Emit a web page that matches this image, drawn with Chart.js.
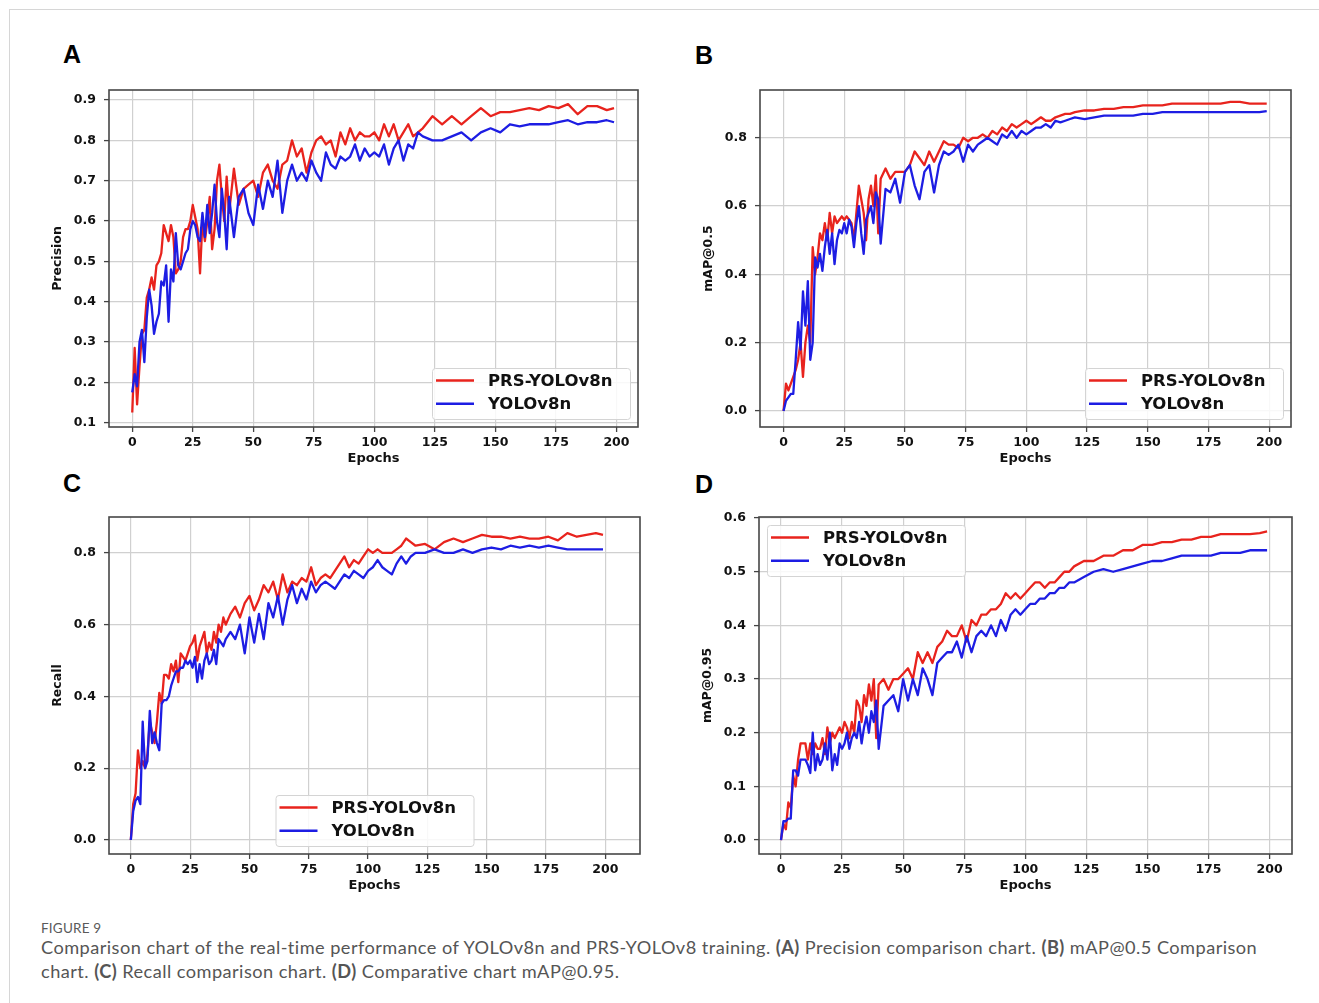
<!DOCTYPE html>
<html>
<head>
<meta charset="utf-8">
<script src="https://cdn.jsdelivr.net/npm/chart.js@4.4.1/dist/chart.umd.min.js"></script>
<style>
    body { margin: 0; background: #fff; width: 1319px; height: 1003px; position: relative; overflow: hidden; }
    .frame { position: absolute; left: 9px; top: 9px; width: 1320px; height: 1000px; border-left: 1px solid #d6d6d6; border-top: 1px solid #d6d6d6; }
    canvas { position: absolute; }
    .tag { position: absolute; font-family: "Liberation Sans", Arial, sans-serif; font-weight: bold; font-size: 25px; line-height: 1; color: #000; }
    .fig { position: absolute; left: 41px; top: 918px; font-family: Lato, "Open Sans", sans-serif; font-size: 13.5px; line-height: 20px; color: #5a5a5a; letter-spacing: 0.2px; }
    .caption { position: absolute; left: 41px; top: 935px; font-family: Lato, "Open Sans", sans-serif; font-size: 18.2px; letter-spacing: 0.45px; line-height: 24px; color: #555; white-space: nowrap; }
    .caption b { font-weight: bold; color: #555; }
</style>
</head>
<body>
<div class="frame"></div>
<div class="tag" style="left:63px;top:42px">A</div>
<div class="tag" style="left:695px;top:43px">B</div>
<div class="tag" style="left:63px;top:471px">C</div>
<div class="tag" style="left:695px;top:472px">D</div>
<canvas id="panelA"></canvas>
<canvas id="panelB"></canvas>
<canvas id="panelC"></canvas>
<canvas id="panelD"></canvas>
<div class="fig">FIGURE 9</div>
<div class="caption">Comparison chart of the real-time performance of YOLOv8n and PRS-YOLOv8 training. <b>(A)</b> Precision comparison chart. <b>(B)</b> mAP@0.5 Comparison<br>chart. <b>(C)</b> Recall comparison chart. <b>(D)</b> Comparative chart mAP@0.95.</div>

<script>
const epochs = [0, 1, 2, 3, 4, 5, 6, 7, 8, 9, 10, 11, 12, 13, 14, 15, 16, 17, 18, 19,
    20, 21, 22, 23, 24, 25, 26, 27, 28, 29, 30, 31, 32, 33, 34, 35, 36, 37, 38, 39, 40,
    42, 44, 46, 48, 50, 52, 54, 56, 58, 60, 62, 64, 66, 68, 70, 72, 74, 76, 78, 80,
    82, 84, 86, 88, 90, 92, 94, 96, 98, 100, 102, 104, 106, 108, 110, 112, 114, 116, 118, 120,
    124, 128, 132, 136, 140, 144, 148, 152, 156, 160, 164, 168, 172, 176, 180, 184, 188, 192, 196, 199];

const xTicks = [0, 25, 50, 75, 100, 125, 150, 175, 200];
const seriesNames = ["PRS-YOLOv8n", "YOLOv8n"];

// (A) precision
const precisionTicks = [0.1, 0.2, 0.3, 0.4, 0.5, 0.6, 0.7, 0.8, 0.9];
const precisionPrs = [0.125, 0.285, 0.145, 0.24, 0.32, 0.33, 0.41, 0.43, 0.46, 0.43,
    0.49, 0.50, 0.52, 0.59, 0.57, 0.55, 0.59, 0.56, 0.47, 0.48,
    0.50, 0.56, 0.58, 0.58, 0.60, 0.64, 0.61, 0.58, 0.47, 0.60,
    0.55, 0.60, 0.66, 0.53, 0.58, 0.70, 0.74, 0.66, 0.60, 0.71, 0.62,
    0.73, 0.64, 0.68, 0.69, 0.70, 0.66, 0.72, 0.74, 0.70, 0.68,
    0.74, 0.75, 0.80, 0.76, 0.78, 0.72, 0.77, 0.80, 0.81, 0.79,
    0.80, 0.76, 0.82, 0.79, 0.83, 0.80, 0.82, 0.81, 0.81, 0.82,
    0.80, 0.84, 0.81, 0.84, 0.80, 0.82, 0.84, 0.81, 0.82, 0.83,
    0.86, 0.84, 0.86, 0.84, 0.86, 0.88, 0.86, 0.87, 0.87, 0.875,
    0.88, 0.875, 0.885, 0.88, 0.89, 0.865, 0.885, 0.885, 0.875, 0.88];
const precisionYolo = [0.175, 0.22, 0.19, 0.30, 0.33, 0.25, 0.36, 0.43, 0.39, 0.32,
    0.35, 0.37, 0.45, 0.44, 0.49, 0.35, 0.48, 0.45, 0.57, 0.49,
    0.48, 0.50, 0.52, 0.53, 0.58, 0.60, 0.59, 0.56, 0.55, 0.62,
    0.56, 0.64, 0.57, 0.62, 0.69, 0.60, 0.56, 0.68, 0.62, 0.53, 0.66,
    0.56, 0.66, 0.68, 0.62, 0.59, 0.69, 0.63, 0.70, 0.66, 0.75,
    0.62, 0.70, 0.74, 0.70, 0.72, 0.70, 0.75, 0.72, 0.70, 0.77,
    0.74, 0.73, 0.76, 0.75, 0.76, 0.79, 0.75, 0.78, 0.76, 0.77,
    0.76, 0.79, 0.74, 0.78, 0.80, 0.75, 0.79, 0.78, 0.82, 0.81,
    0.80, 0.80, 0.81, 0.82, 0.80, 0.82, 0.83, 0.82, 0.84, 0.835,
    0.84, 0.84, 0.84, 0.845, 0.85, 0.84, 0.845, 0.845, 0.85, 0.845];

// (B) mAP@0.5
const map50Ticks = [0, 0.2, 0.4, 0.6, 0.8];
const map50Prs = [0.0, 0.08, 0.06, 0.08, 0.10, 0.12, 0.15, 0.20, 0.10, 0.20,
    0.25, 0.20, 0.48, 0.40, 0.45, 0.52, 0.50, 0.55, 0.50, 0.58,
    0.52, 0.57, 0.55, 0.56, 0.57, 0.56, 0.57, 0.56, 0.55, 0.50,
    0.58, 0.66, 0.62, 0.58, 0.50, 0.62, 0.66, 0.60, 0.69, 0.52, 0.68,
    0.71, 0.68, 0.70, 0.70, 0.70, 0.72, 0.76, 0.74, 0.72, 0.76,
    0.73, 0.76, 0.79, 0.78, 0.78, 0.77, 0.80, 0.79, 0.80, 0.80,
    0.81, 0.80, 0.82, 0.81, 0.83, 0.82, 0.84, 0.83, 0.84, 0.85,
    0.84, 0.85, 0.86, 0.85, 0.85, 0.86, 0.865, 0.87, 0.87, 0.875,
    0.88, 0.88, 0.885, 0.885, 0.89, 0.89, 0.895, 0.895, 0.895, 0.90,
    0.90, 0.90, 0.90, 0.90, 0.90, 0.905, 0.905, 0.90, 0.90, 0.90];
const map50Yolo = [0.0, 0.03, 0.04, 0.05, 0.05, 0.15, 0.26, 0.18, 0.35, 0.25,
    0.38, 0.15, 0.20, 0.45, 0.42, 0.46, 0.41, 0.48, 0.53, 0.46,
    0.52, 0.43, 0.50, 0.53, 0.52, 0.55, 0.52, 0.56, 0.54, 0.48,
    0.55, 0.60, 0.52, 0.46, 0.56, 0.58, 0.60, 0.55, 0.64, 0.62, 0.49,
    0.65, 0.64, 0.68, 0.61, 0.70, 0.72, 0.66, 0.62, 0.70, 0.72,
    0.64, 0.72, 0.76, 0.75, 0.76, 0.78, 0.73, 0.78, 0.76, 0.78,
    0.79, 0.80, 0.79, 0.78, 0.81, 0.80, 0.82, 0.80, 0.82, 0.81,
    0.82, 0.83, 0.83, 0.84, 0.83, 0.85, 0.845, 0.85, 0.855, 0.86,
    0.855, 0.86, 0.865, 0.865, 0.865, 0.865, 0.87, 0.87, 0.875, 0.875,
    0.875, 0.875, 0.875, 0.875, 0.875, 0.875, 0.875, 0.875, 0.875, 0.878];

// (C) recall
const recallTicks = [0, 0.2, 0.4, 0.6, 0.8];
const recallPrs = [0.0, 0.10, 0.13, 0.25, 0.20, 0.22, 0.20, 0.24, 0.33, 0.30,
    0.27, 0.33, 0.41, 0.38, 0.46, 0.46, 0.45, 0.49, 0.47, 0.50,
    0.44, 0.52, 0.51, 0.50, 0.52, 0.54, 0.55, 0.57, 0.50, 0.54,
    0.56, 0.58, 0.52, 0.55, 0.53, 0.58, 0.55, 0.60, 0.58, 0.62, 0.60,
    0.63, 0.65, 0.62, 0.66, 0.68, 0.64, 0.67, 0.71, 0.69, 0.72,
    0.67, 0.74, 0.69, 0.72, 0.71, 0.73, 0.72, 0.76, 0.71, 0.73,
    0.74, 0.73, 0.75, 0.77, 0.79, 0.76, 0.78, 0.77, 0.79, 0.81,
    0.80, 0.81, 0.80, 0.80, 0.80, 0.81, 0.82, 0.84, 0.83, 0.82,
    0.825, 0.81, 0.83, 0.84, 0.83, 0.84, 0.85, 0.845, 0.845, 0.84,
    0.845, 0.84, 0.84, 0.845, 0.835, 0.855, 0.845, 0.85, 0.855, 0.85];
const recallYolo = [0.0, 0.08, 0.11, 0.12, 0.10, 0.33, 0.20, 0.22, 0.36, 0.27,
    0.30, 0.27, 0.25, 0.38, 0.39, 0.39, 0.40, 0.43, 0.45, 0.47,
    0.47, 0.48, 0.48, 0.50, 0.49, 0.50, 0.48, 0.51, 0.44, 0.49,
    0.45, 0.50, 0.52, 0.49, 0.50, 0.53, 0.49, 0.56, 0.55, 0.54, 0.56,
    0.58, 0.56, 0.60, 0.52, 0.62, 0.55, 0.63, 0.56, 0.66, 0.62,
    0.68, 0.60, 0.67, 0.71, 0.66, 0.70, 0.67, 0.72, 0.69, 0.71,
    0.72, 0.71, 0.70, 0.72, 0.74, 0.73, 0.75, 0.74, 0.73, 0.75,
    0.76, 0.78, 0.76, 0.75, 0.74, 0.77, 0.79, 0.77, 0.79, 0.80,
    0.80, 0.81, 0.80, 0.80, 0.81, 0.80, 0.81, 0.815, 0.81, 0.82,
    0.815, 0.82, 0.815, 0.82, 0.815, 0.81, 0.81, 0.81, 0.81, 0.81];

// (D) mAP@0.95
const map95Ticks = [0, 0.1, 0.2, 0.3, 0.4, 0.5, 0.6];
const map95Prs = [0.0, 0.03, 0.02, 0.07, 0.06, 0.12, 0.10, 0.15, 0.18, 0.18,
    0.18, 0.15, 0.18, 0.16, 0.18, 0.17, 0.17, 0.19, 0.16, 0.21,
    0.18, 0.20, 0.19, 0.20, 0.21, 0.20, 0.22, 0.21, 0.19, 0.22,
    0.20, 0.26, 0.25, 0.22, 0.27, 0.25, 0.29, 0.26, 0.30, 0.19, 0.29,
    0.30, 0.28, 0.30, 0.30, 0.31, 0.32, 0.30, 0.35, 0.33, 0.35,
    0.33, 0.36, 0.37, 0.39, 0.38, 0.38, 0.40, 0.37, 0.41, 0.40,
    0.42, 0.42, 0.43, 0.43, 0.44, 0.46, 0.45, 0.46, 0.45, 0.46,
    0.47, 0.48, 0.48, 0.47, 0.48, 0.48, 0.49, 0.50, 0.50, 0.51,
    0.52, 0.52, 0.53, 0.53, 0.54, 0.54, 0.55, 0.55, 0.555, 0.555,
    0.56, 0.56, 0.565, 0.565, 0.57, 0.57, 0.57, 0.57, 0.572, 0.575];
const map95Yolo = [0.0, 0.035, 0.035, 0.04, 0.04, 0.13, 0.13, 0.12, 0.15, 0.15,
    0.15, 0.14, 0.125, 0.20, 0.13, 0.16, 0.14, 0.15, 0.18, 0.15,
    0.20, 0.13, 0.16, 0.14, 0.18, 0.17, 0.18, 0.20, 0.17, 0.19,
    0.20, 0.19, 0.22, 0.18, 0.21, 0.23, 0.20, 0.24, 0.22, 0.26, 0.17,
    0.25, 0.26, 0.27, 0.24, 0.30, 0.26, 0.30, 0.27, 0.32, 0.30,
    0.27, 0.33, 0.34, 0.35, 0.35, 0.37, 0.34, 0.38, 0.35, 0.38,
    0.39, 0.38, 0.40, 0.38, 0.41, 0.39, 0.42, 0.43, 0.42, 0.43,
    0.44, 0.44, 0.45, 0.45, 0.46, 0.46, 0.47, 0.47, 0.48, 0.48,
    0.49, 0.50, 0.505, 0.50, 0.505, 0.51, 0.515, 0.52, 0.52, 0.525,
    0.53, 0.53, 0.53, 0.53, 0.535, 0.535, 0.535, 0.54, 0.54, 0.54];

Chart.defaults.font.family = '"DejaVu Sans", sans-serif';
Chart.defaults.font.weight = 'bold';
Chart.defaults.color = '#111';

// matplotlib-like box round the axes plus a boxed legend inside it
const axesBox = {
    id: 'axesBox',
    afterDatasetsDraw(chart, args, opts) {
        const ctx = chart.ctx;
        const a = chart.chartArea;
        ctx.save();
        ctx.strokeStyle = '#474747';
        ctx.lineWidth = 1.6;
        ctx.strokeRect(a.left, a.top, a.right - a.left, a.bottom - a.top);

        //legend box, placed like matplotlib's loc
        const w = 198, h = 51, pad = 8;
        let x = a.right - pad - w;
        let y = a.bottom - pad - h;
        if (opts.loc == 'lower center') x = (a.left + a.right) / 2 - w / 2;
        if (opts.loc == 'upper left') { x = a.left + pad; y = a.top + pad; }
        ctx.fillStyle = 'rgba(255,255,255,0.85)';
        ctx.strokeStyle = '#d4d4d4';
        ctx.lineWidth = 1;
        ctx.beginPath();
        ctx.roundRect(x + 0.5, y + 0.5, w, h, 3);
        ctx.fill();
        ctx.stroke();

        ctx.font = 'bold 16.5px "DejaVu Sans"';
        ctx.textBaseline = 'middle';
        chart.data.datasets.forEach((ds, i) => {
            const rowY = y + 12.5 + i * 23.3;
            ctx.strokeStyle = ds.borderColor;
            ctx.lineWidth = 2.4;
            ctx.beginPath();
            ctx.moveTo(x + 4, rowY);
            ctx.lineTo(x + 42, rowY);
            ctx.stroke();
            ctx.fillStyle = '#111';
            ctx.fillText(ds.label, x + 56, rowY + 1);
        });
        ctx.restore();
    }
};

function toPoints(values) {
    return values.map((v, i) => ({ x: epochs[i], y: v }));
}

// area = pixel box of the plot area on the page
function makePanel(id, area, yTitle, yTicks, yMin, yMax, xMin, xMax, prs, yolo, legendLoc) {
    const canvas = document.getElementById(id);
    canvas.width = area.right - area.left + 69 + 12;
    canvas.height = area.bottom - area.top + 20 + 53;
    canvas.style.left = (area.left - 69) + 'px';
    canvas.style.top = (area.top - 20) + 'px';

    const gridStyle = { color: '#d0d0d0', lineWidth: 1.2, tickLength: 5, tickColor: '#444', tickWidth: 1.3 };

    return new Chart(canvas.getContext('2d'), {
        type: 'line',
        data: {
            datasets: [
                { label: seriesNames[0], data: toPoints(prs), borderColor: '#e8231d', borderWidth: 2.3, order: 1 },
                { label: seriesNames[1], data: toPoints(yolo), borderColor: '#1d1de3', borderWidth: 2.3, order: 0 }
            ]
        },
        options: {
            responsive: false,
            animation: false,
            devicePixelRatio: 1,
            elements: { point: { radius: 0 }, line: { tension: 0, borderJoinStyle: 'round' } },
            layout: { padding: { left: 0, top: 20, right: 12, bottom: 0 } },
            plugins: {
                legend: { display: false },
                tooltip: { enabled: false },
                axesBox: { loc: legendLoc }
            },
            scales: {
                x: {
                    type: 'linear',
                    min: xMin,
                    max: xMax,
                    afterBuildTicks: s => { s.ticks = xTicks.map(v => ({ value: v })); },
                    afterFit: s => { s.height = 53; },
                    ticks: { font: { size: 12.5 }, padding: 3, callback: v => String(v) },
                    grid: gridStyle,
                    border: { display: false },
                    title: { display: true, text: 'Epochs', font: { size: 13 }, padding: { top: 0, bottom: 14 } }
                },
                y: {
                    min: yMin,
                    max: yMax,
                    afterBuildTicks: s => { s.ticks = yTicks.map(v => ({ value: v })); },
                    afterFit: s => { s.width = 69; },
                    ticks: { font: { size: 12.5 }, padding: 8, callback: v => v.toFixed(1) },
                    grid: gridStyle,
                    border: { display: false },
                    title: { display: true, text: yTitle, font: { size: 12.5 }, padding: { top: 10.5, bottom: 0 } }
                }
            }
        },
        plugins: [axesBox]
    });
}

makePanel('panelA', { left: 109, top: 90, right: 638, bottom: 427 }, 'Precision', precisionTicks,
    0.089, 0.925, -9.6, 208.9, precisionPrs, precisionYolo, 'lower right');
makePanel('panelB', { left: 760, top: 90, right: 1291, bottom: 427 }, 'mAP@0.5', map50Ticks,
    -0.047, 0.94, -9.7, 209, map50Prs, map50Yolo, 'lower right');
makePanel('panelC', { left: 109, top: 517, right: 640, bottom: 854 }, 'Recall', recallTicks,
    -0.039, 0.90, -9.2, 214.6, recallPrs, recallYolo, 'lower center');
makePanel('panelD', { left: 759, top: 517, right: 1292, bottom: 854 }, 'mAP@0.95', map95Ticks,
    -0.026, 0.602, -9, 209.2, map95Prs, map95Yolo, 'upper left');
</script>
</body>
</html>
